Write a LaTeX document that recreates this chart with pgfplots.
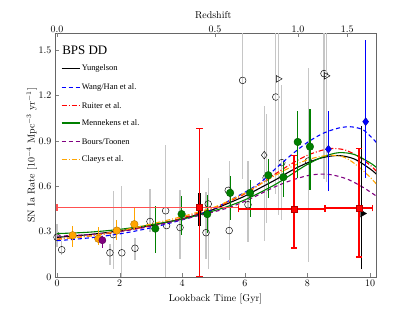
\documentclass[border=0pt]{standalone}
\usepackage{pgfplots}
\pgfplotsset{compat=1.18}
\usepackage{fontspec}
\newfontfamily\timesfont{Liberation Serif}
\definecolor{dgreen}{RGB}{0,128,0}
\definecolor{orng}{RGB}{255,165,0}
\definecolor{purp}{RGB}{128,0,128}
\definecolor{bblue}{RGB}{0,0,255}
\definecolor{rred}{RGB}{255,0,0}
\definecolor{lred}{RGB}{255,80,80}
\begin{document}
\begin{tikzpicture}
\useasboundingbox (-55bp,-35bp) rectangle (360bp,277bp);
\begin{axis}[
  scale only axis, width=321bp, height=243.5bp,
  xmin=-0.064, xmax=10.19, ymin=0, ymax=1.61,
  clip mode=individual,
  xtick={0,2,4,6,8,10}, ytick={0,0.3,0.6,0.9,1.2,1.5},
  yticklabels={0,0.3,0.6,0.9,1.2,1.5},
  tick pos=left,
  extra x ticks={0,5.05,7.70,9.27},
  extra x tick labels={},
  extra x tick style={tick pos=right},
  axis line style={black!60},
  major tick length=4bp,
  xlabel={Lookback Time [Gyr]},
  ylabel={SN Ia Rate [$10^{-4}$ Mpc$^{-3}$ yr$^{-1}$]},
  every axis y label/.style={at={(axis description cs:-0.072,0.5)}, rotate=90, anchor=center},
  unbounded coords=jump,
]
% gray data (behind)
\addplot[only marks, mark=o, mark size=3.4pt, draw=black, mark options={line width=0.45pt},
  error bars/.cd, y dir=both, y explicit, error mark=none,
  error bar style={draw=gray!45, line width=1.2pt}]
  table[x=x, y=y, y error plus=ep, y error minus=em, row sep=\\]{
  x y ep em\\
  0.00 0.263 0.087 0.063\\
  0.15 0.180 0.055 0.035\\
  1.69 0.160 0.060 0.080\\
  1.80 0.280 0.290 0.230\\
  2.07 0.160 0.440 0.160\\
  2.49 0.190 0.066 0.080\\
  2.97 0.367 0.213 0.067\\
  3.47 0.438 0.432 0.438\\
  3.50 0.340 0.000 0.000\\
  3.93 0.327 0.251 0.211\\
  4.83 0.483 0.173 0.427\\
  4.76 0.293 0.267 0.173\\
  5.50 0.307 0.460 0.197\\
  5.47 0.573 0.000 0.000\\
  6.10 0.478 0.292 0.245\\
  6.68 0.656 0.420 0.300\\
  5.93 1.300 0.800 0.650\\
  6.99 1.190 0.800 0.640\\
  7.18 0.756 0.514 0.378\\
  8.03 0.767 0.613 0.667\\
  8.53 1.345 0.700 0.700\\
  };
\addplot[only marks, mark=diamond, mark size=3.8pt, draw=black, mark options={line width=0.45pt},
  error bars/.cd, y dir=both, y explicit, error mark=none,
  error bar style={draw=gray!45, line width=1.2pt}]
  table[x=x, y=y, y error plus=ep, y error minus=em, row sep=\\]{
  x y ep em\\
  6.62 0.806 0.324 0.566\\
  };
\addplot[only marks, mark=triangle, mark size=3.8pt, draw=black, mark options={line width=0.45pt, rotate=-90},
  error bars/.cd, y dir=both, y explicit, error mark=none,
  error bar style={draw=gray!45, line width=1.2pt}]
  table[x=x, y=y, y error plus=ep, y error minus=em, row sep=\\]{
  x y ep em\\
  7.07 1.310 0.800 0.900\\
  8.60 1.330 0.700 0.700\\
  };
% model curves
\addplot[draw=black, line width=1.1pt, smooth] coordinates {
 (0,0.262)(1,0.28)(2,0.305)(3,0.34)(4,0.385)(4.5,0.413)(5,0.447)(5.5,0.49)(6,0.535)(6.5,0.59)(7,0.645)(7.5,0.705)(8,0.755)(8.5,0.79)(9,0.803)(9.5,0.78)(10,0.715)(10.2,0.68)};
\addplot[draw=bblue, line width=1.1pt, dash pattern=on 4bp off 3bp, smooth] coordinates {
 (0,0.24)(1,0.258)(2,0.285)(3,0.325)(4,0.378)(4.5,0.41)(5,0.45)(5.5,0.505)(6,0.56)(6.5,0.625)(7,0.72)(7.5,0.81)(8,0.89)(8.5,0.95)(9,0.985)(9.4,0.993)(9.8,0.97)(10.2,0.89)};
\addplot[draw=rred, line width=1.1pt, dash pattern=on 5bp off 2bp on 1bp off 2bp, smooth] coordinates {
 (0,0.25)(1,0.27)(2,0.30)(3,0.34)(4,0.39)(5,0.455)(5.5,0.50)(6,0.55)(6.5,0.615)(7,0.685)(7.5,0.75)(8,0.805)(8.5,0.84)(8.8,0.85)(9.2,0.84)(9.6,0.80)(10,0.74)(10.2,0.70)};
\addplot[draw=dgreen, line width=1.1pt, smooth] coordinates {
 (0,0.287)(1,0.296)(2,0.315)(3,0.345)(4,0.383)(5,0.437)(5.5,0.47)(6,0.51)(6.5,0.56)(7,0.615)(7.5,0.68)(8,0.745)(8.5,0.795)(9,0.822)(9.5,0.81)(10,0.755)(10.2,0.725)};
\addplot[draw=purp, line width=1.1pt, dash pattern=on 4bp off 3bp, smooth] coordinates {
 (0,0.27)(1,0.28)(2,0.30)(3,0.335)(4,0.38)(5,0.43)(5.5,0.46)(6,0.50)(6.5,0.55)(7,0.60)(7.5,0.64)(8,0.67)(8.4,0.68)(8.8,0.675)(9.3,0.645)(9.8,0.59)(10.2,0.535)};
\addplot[draw=orng, line width=1.1pt, dash pattern=on 5bp off 2bp on 1bp off 2bp, smooth] coordinates {
 (0,0.25)(1,0.27)(2,0.305)(3,0.35)(4,0.40)(5,0.46)(5.5,0.505)(6,0.555)(6.5,0.615)(7,0.675)(7.5,0.73)(8,0.775)(8.5,0.80)(8.8,0.805)(9.2,0.79)(9.6,0.735)(10,0.66)(10.2,0.615)};
% coloured data
\addplot[only marks, mark=*, mark size=3.8pt, draw=dgreen, mark options={fill=dgreen, draw=dgreen!70!black, line width=0.4pt},
  error bars/.cd, y dir=both, y explicit, error mark=none,
  error bar style={draw=dgreen, line width=1.2pt}]
  table[x=x, y=y, y error plus=ep, y error minus=em, row sep=\\]{
  x y ep em\\
  3.14 0.320 0.147 0.160\\
  3.98 0.416 0.122 0.138\\
  4.80 0.416 0.127 0.126\\
  5.53 0.556 0.114 0.178\\
  6.17 0.556 0.084 0.156\\
  6.75 0.673 0.105 0.153\\
  7.23 0.660 0.100 0.130\\
  7.69 0.893 0.207 0.240\\
  8.08 0.862 0.248 0.284\\
  };
\addplot[only marks, mark=*, mark size=3.8pt, draw=orng, mark options={fill=orng, draw=orng!70!black, line width=0.4pt},
  error bars/.cd, y dir=both, y explicit, error mark=none,
  error bar style={draw=orng, line width=1.2pt}]
  table[x=x, y=y, y error plus=ep, y error minus=em, row sep=\\]{
  x y ep em\\
  0.50 0.276 0.064 0.080\\
  1.32 0.253 0.077 0.043\\
  1.91 0.307 0.071 0.062\\
  2.47 0.349 0.107 0.038\\
  };
\addplot[only marks, mark=*, mark size=3.6pt, draw=purp, mark options={fill=purp, draw=purp!70!black, line width=0.4pt},
  error bars/.cd, y dir=both, y explicit, error mark=none,
  error bar style={draw=purp, line width=1.2pt}]
  table[x=x, y=y, y error plus=ep, y error minus=em, row sep=\\]{
  x y ep em\\
  1.45 0.243 0.027 0.053\\
  };
% blue bars and diamonds
\addplot[draw=bblue, line width=1.3pt] coordinates {
 (8.67,0.567)(8.67,1.10) (8.67,nan) (9.86,0.656)(9.86,1.567)};
\addplot[only marks, mark=diamond*, mark size=4pt, draw=bblue, mark options={fill=bblue, draw=bblue!70!black, line width=0.4pt}]
  coordinates {(8.67,0.845)(9.86,1.027)};
% black bars and triangle
\addplot[draw=black, line width=1pt] coordinates {(9.74,0.05)(9.74,1.0)};
\addplot[only marks, mark=triangle*, mark size=4pt, draw=black, mark options={rotate=-90, fill=black}]
  coordinates {(9.76,0.42)};
\addplot[draw=black, line width=2.6pt] coordinates {
 (4.55,0.338)(4.55,0.556) (4.55,nan) (7.57,0.396)(7.57,0.578) (7.57,nan) (9.65,0.37)(9.65,0.51)};
% red ranges
\addplot[draw=lred, line width=1.4pt] coordinates {
 (0,0.46)(5.8,0.46) (5.8,nan)
 (0,0.438)(0,0.482) (0,nan)
 (5.8,0.438)(5.8,0.482)};
\addplot[draw=rred, line width=1.4pt] coordinates {
 (5.79,0.449)(8.56,0.449) (8.56,nan)
 (8.56,0.456)(10.07,0.456) (10.07,nan)
 (5.79,0.427)(5.79,0.471) (5.79,nan)
 (8.56,0.43)(8.56,0.476) (8.56,nan)
 (10.07,0.434)(10.07,0.478) (10.07,nan)
 (4.55,0)(4.55,0.98) (4.55,nan)
 (7.57,0.193)(7.57,0.805) (7.57,nan)
 (9.65,0.133)(9.65,0.85) (9.65,nan)
 (4.45,0.98)(4.65,0.98) (4.65,nan)
 (4.45,0.003)(4.65,0.003) (4.65,nan)
 (7.47,0.193)(7.67,0.193) (7.67,nan)
 (7.47,0.805)(7.67,0.805) (7.67,nan)
 (9.55,0.133)(9.75,0.133) (9.75,nan)
 (9.55,0.85)(9.75,0.85)};
\addplot[only marks, mark=square*, mark size=3.2pt, draw=rred, mark options={fill=rred, draw=rred!70!black, line width=0.4pt}]
  coordinates {(4.55,0.46)(7.57,0.449)(9.65,0.456)};
% legend (drawn by hand)
\begin{scope}[line width=1.3pt]
\draw[draw=black] (axis description cs:0.021,0.856) -- (axis description cs:0.078,0.856);
\draw[draw=bblue, dash pattern=on 4bp off 3bp] (axis description cs:0.021,0.778) -- (axis description cs:0.078,0.778);
\draw[draw=rred, dash pattern=on 5bp off 2bp on 1bp off 2bp] (axis description cs:0.021,0.705) -- (axis description cs:0.078,0.705);
\draw[draw=dgreen] (axis description cs:0.021,0.633) -- (axis description cs:0.078,0.633);
\draw[draw=purp, dash pattern=on 4bp off 3bp] (axis description cs:0.021,0.557) -- (axis description cs:0.078,0.557);
\draw[draw=orng, dash pattern=on 5bp off 2bp on 1bp off 2bp] (axis description cs:0.021,0.482) -- (axis description cs:0.078,0.482);
\end{scope}
\begin{scope}[every node/.style={anchor=west, inner sep=0pt, font=\timesfont\fontsize{8.5}{9}\selectfont}]
\node at (axis description cs:0.083,0.856) {Yungelson};
\node at (axis description cs:0.083,0.778) {Wang/Han et al.};
\node at (axis description cs:0.083,0.705) {Ruiter et al.};
\node at (axis description cs:0.083,0.633) {Mennekens et al.};
\node at (axis description cs:0.083,0.557) {Bours/Toonen};
\node at (axis description cs:0.083,0.482) {Claeys et al.};
\end{scope}
\node[anchor=west, inner sep=0pt, font=\timesfont\fontsize{13}{14}\selectfont] at (axis description cs:0.022,0.931) {BPS DD};
% top (redshift) tick labels and label
\begin{scope}[every node/.style={anchor=south, inner sep=0pt, yshift=1.2bp}]
\node at (axis cs:0,1.61) {$0.0$};
\node at (axis cs:5.05,1.61) {$0.5$};
\node at (axis cs:7.70,1.61) {$1.0$};
\node at (axis cs:9.27,1.61) {$1.5$};
\end{scope}
\node[anchor=center] at (axis description cs:0.493,1.074) {Redshift};
\end{axis}
\end{tikzpicture}
\end{document}
